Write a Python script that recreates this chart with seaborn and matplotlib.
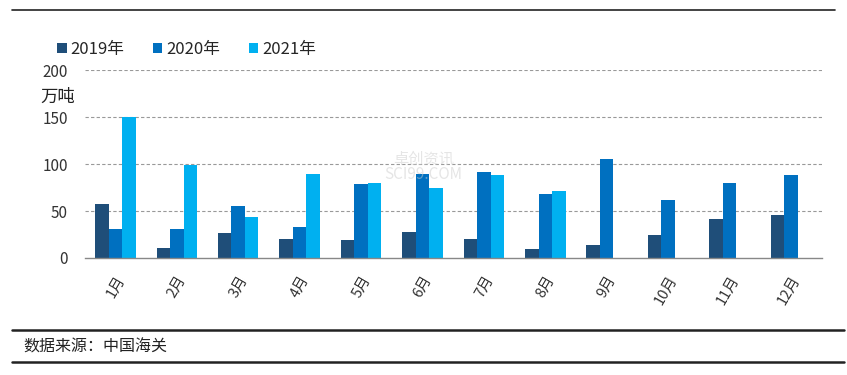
import seaborn as sns
import matplotlib.pyplot as plt
import matplotlib.lines as mlines
import pandas as pd
import numpy as np

months = ["1月", "2月", "3月", "4月", "5月", "6月", "7月", "8月", "9月", "10月", "11月", "12月"]
years = ["2019年", "2020年", "2021年"]
v2019 = [58, 11, 27, 20, 19, 28, 20, 10, 14, 25, 42, 46]
v2020 = [31, 31, 55, 33, 79, 89, 92, 68, 105, 62, 80, 88]
v2021 = [150, 99, 44, 89, 80, 75, 88, 71, np.nan, np.nan, np.nan, np.nan]
colors = ["#1f4e79", "#0070c0", "#00b0f0"]

df = pd.DataFrame({
    "month": months * 3,
    "year": [years[0]] * 12 + [years[1]] * 12 + [years[2]] * 12,
    "value": v2019 + v2020 + v2021,
})

sns.set_style("white")
plt.rcParams["font.family"] = ["Noto Sans CJK SC", "DejaVu Sans"]

fig = plt.figure(figsize=(8.47, 3.75), dpi=100)
ax = fig.add_axes([0.100, 0.312, 0.870, 0.501])

sns.barplot(data=df, x="month", y="value", hue="year", order=months,
            hue_order=years, palette=colors, width=0.66, saturation=1,
            errorbar=None, linewidth=0, ax=ax)

ax.set_ylim(0, 200)
ax.set_xlim(-0.5, 11.5)
ax.set_yticks([0, 50, 100, 150, 200])
ax.tick_params(axis="y", length=0, labelsize=11, colors="#333333", pad=12)
for y in [50, 100, 150, 200]:
    ax.axhline(y, color="#999999", lw=0.8, ls=(0, (3, 2)), zorder=0)

# category boundary ticks on x axis
ax.set_xticks(np.arange(12))
ax.set_xticklabels(months, rotation=60, ha="right", rotation_mode="anchor",
                   fontsize=10.5, color="#333333")
ax.set_xticks(np.arange(-0.5, 12, 1), minor=True)
ax.tick_params(axis="x", which="major", length=0, pad=11)
ax.tick_params(axis="x", which="minor", length=5, color="#888888", width=0.8,
               direction="out")
ax.set_xlabel("")
ax.set_ylabel("")
for s in ["top", "right", "left"]:
    ax.spines[s].set_visible(False)
ax.spines["bottom"].set_color("#888888")
ax.spines["bottom"].set_linewidth(1.0)

ax.legend(loc="center left", bbox_to_anchor=(-0.037, 1.11), ncol=3,
          frameon=False, handlelength=0.55, handleheight=0.55,
          handletextpad=0.25, columnspacing=1.7, fontsize=12,
          borderpad=0, borderaxespad=0)

fig.text(0.068, 0.741, "万吨", fontsize=12.5, ha="center", va="center",
         color="#222222")
fig.text(0.50, 0.555, "卓创资讯\nSCI99.COM", fontsize=11, ha="center",
         va="center", color="#cccccc", alpha=0.5, linespacing=0.9)

# frame lines
fig.add_artist(mlines.Line2D([0.014, 0.986], [0.973, 0.973], color="#222222", lw=1.2))
fig.add_artist(mlines.Line2D([0.014, 0.997], [0.120, 0.120], color="#222222", lw=1.8))
fig.add_artist(mlines.Line2D([0.014, 0.997], [0.035, 0.035], color="#222222", lw=1.8))
fig.text(0.028, 0.075, "数据来源：中国海关", fontsize=11.5, va="center",
         color="#222222")

fig.savefig("out.png", dpi=100)
